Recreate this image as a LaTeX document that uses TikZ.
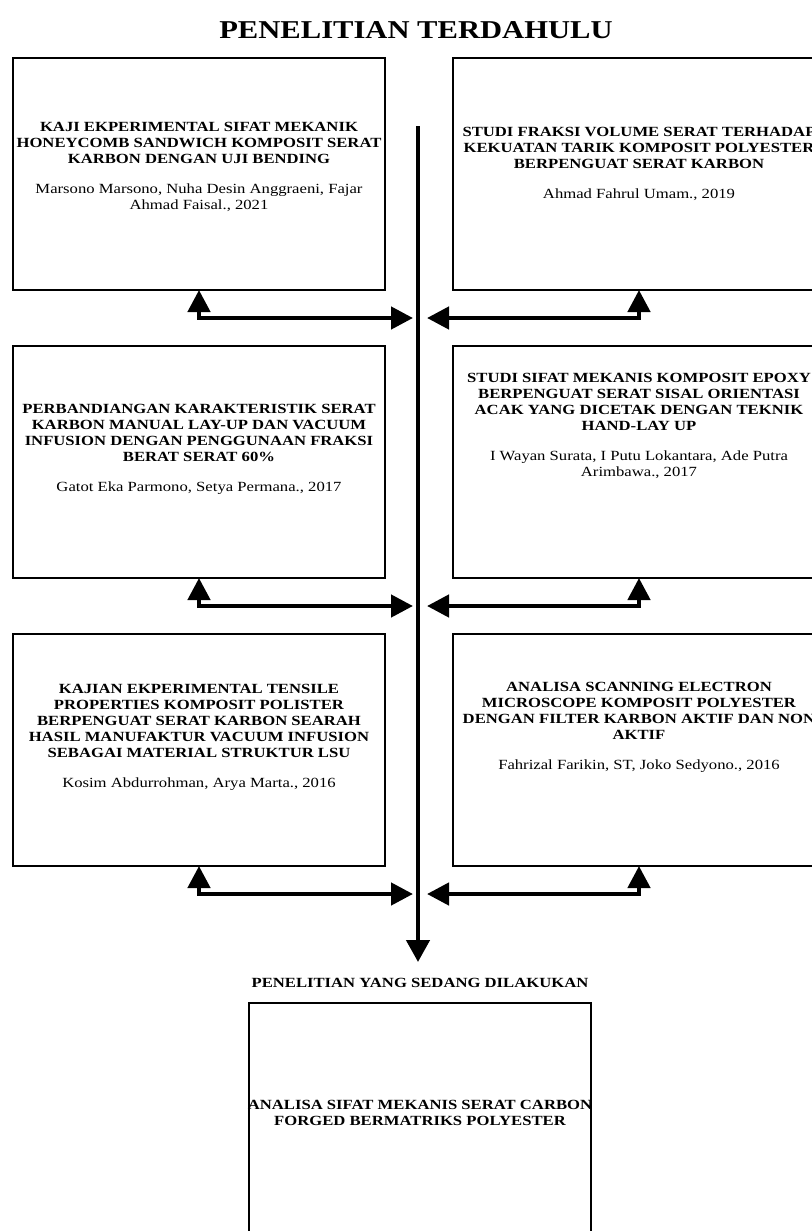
\documentclass[tikz,border=0pt]{standalone}
\usepackage{fontspec}
\setmainfont{Liberation Serif}[FakeStretch=1.19]
\usetikzlibrary{positioning, arrows.meta}

\begin{document}
\begin{tikzpicture}[
    x=1pt, y=1pt,
    node distance=56pt and 68pt,
    box/.style={rectangle, draw, line width=1.2pt, minimum width=372pt, minimum height=232pt, inner sep=0pt, outer sep=0pt},
    txt/.style={align=center, inner sep=0pt, font=\fontsize{14}{16}\selectfont},
    head/.style={inner sep=0pt, font=\fontsize{25.7}{28}\selectfont\bfseries},
    spine/.style={line width=4.5pt, -{Triangle[length=22pt, width=23pt]}},
    link/.style={line width=4.5pt, {Triangle[length=22pt, width=22pt]}-{Triangle[length=22pt, width=22pt]}}
]
    \useasboundingbox (0,0) rectangle (811,-1231);
    \node[head] (title) at (416,-30) {PENELITIAN TERDAHULU};
    % boxes
    \node[box] (l1) at (199,-174) {};
    \node[box, right=of l1] (r1) {};
    \node[box, below=of l1] (l2) {};
    \node[box, right=of l2] (r2) {};
    \node[box, below=of l2] (l3) {};
    \node[box, right=of l3] (r3) {};
    \node[txt, yshift=7pt] (l1t) at (l1) {\textbf{KAJI EKPERIMENTAL SIFAT MEKANIK}\\ \textbf{HONEYCOMB SANDWICH KOMPOSIT SERAT}\\ \textbf{KARBON DENGAN UJI BENDING}\\[14pt] Marsono Marsono, Nuha Desin Anggraeni, Fajar\\ Ahmad Faisal., 2021};
    \node[txt, yshift=10pt] (r1t) at (r1) {\textbf{STUDI FRAKSI VOLUME SERAT TERHADAP}\\ \textbf{KEKUATAN TARIK KOMPOSIT POLYESTER}\\ \textbf{BERPENGUAT SERAT KARBON}\\[14pt] Ahmad Fahrul Umam., 2019};
    \node[txt, yshift=13pt] (l2t) at (l2) {\textbf{PERBANDIANGAN KARAKTERISTIK SERAT}\\ \textbf{KARBON MANUAL LAY-UP DAN VACUUM}\\ \textbf{INFUSION DENGAN PENGGUNAAN FRAKSI}\\ \textbf{BERAT SERAT 60\%}\\[14pt] Gatot Eka Parmono, Setya Permana., 2017};
    \node[txt, yshift=36pt] (r2t) at (r2) {\textbf{STUDI SIFAT MEKANIS KOMPOSIT EPOXY}\\ \textbf{BERPENGUAT SERAT SISAL ORIENTASI}\\ \textbf{ACAK YANG DICETAK DENGAN TEKNIK}\\ \textbf{HAND-LAY UP}\\[14pt] I Wayan Surata, I Putu Lokantara, Ade Putra\\ Arimbawa., 2017};
    \node[txt, yshift=13pt] (l3t) at (l3) {\textbf{KAJIAN EKPERIMENTAL TENSILE}\\ \textbf{PROPERTIES KOMPOSIT POLISTER}\\ \textbf{BERPENGUAT SERAT KARBON SEARAH}\\ \textbf{HASIL MANUFAKTUR VACUUM INFUSION}\\ \textbf{SEBAGAI MATERIAL STRUKTUR LSU}\\[14pt] Kosim Abdurrohman, Arya Marta., 2016};
    \node[txt, yshift=23pt] (r3t) at (r3) {\textbf{ANALISA SCANNING ELECTRON}\\ \textbf{MICROSCOPE KOMPOSIT POLYESTER}\\ \textbf{DENGAN FILTER KARBON AKTIF DAN NON}\\ \textbf{AKTIF}\\[14pt] Fahrizal Farikin, ST, Joko Sedyono., 2016};
    % current research
    \node[txt, font=\fontsize{14}{16}\selectfont\bfseries] (now) at (420,-983) {PENELITIAN YANG SEDANG DILAKUKAN};
    \node[box, minimum width=342pt] (res) at (420,-1119) {};
    \node[txt, yshift=6pt, font=\fontsize{14}{16}\selectfont\bfseries] (rest) at (res) {ANALISA SIFAT MEKANIS SERAT CARBON\\ FORGED BERMATRIKS POLYESTER};
    % spine and links
    \coordinate (top) at (418,-126);
    \coordinate (end) at (418,-962);
    \draw[spine] (top) -- (end);
    \foreach \i/\y in {1/-318, 2/-606, 3/-894} {
        \coordinate (j\i w) at (413,\y);
        \coordinate (j\i e) at (427,\y);
        \draw[link] (l\i.south) |- (j\i w);
        \draw[link] (r\i.south) |- (j\i e);
    }
\end{tikzpicture}
\end{document}
